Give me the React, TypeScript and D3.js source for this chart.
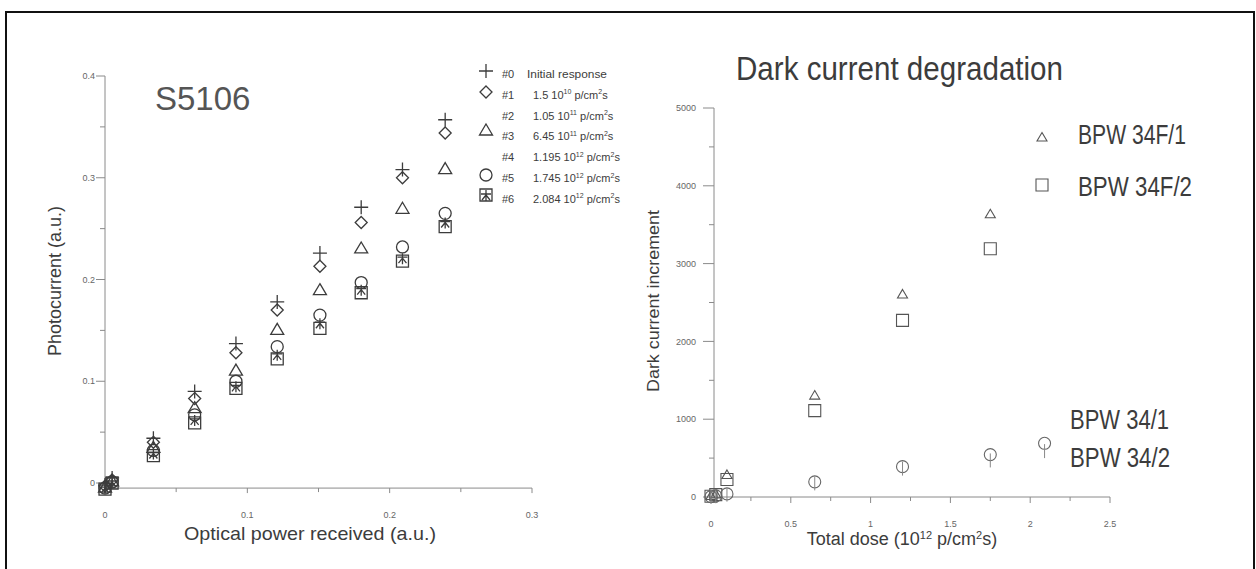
import React from 'react';
import * as d3 from 'd3';

// ---- left panel: S5106 photocurrent vs optical power ----
const powerLevels = [0, 0.005, 0.034, 0.063, 0.092, 0.121, 0.151, 0.18, 0.209, 0.239];
const run0 = [-0.002, 0.005, 0.044, 0.09, 0.137, 0.178, 0.226, 0.271, 0.308, 0.357];
const run1 = [-0.003, 0.003, 0.04, 0.083, 0.128, 0.17, 0.213, 0.256, 0.3, 0.344];
const run3 = [-0.004, 0.002, 0.035, 0.074, 0.111, 0.151, 0.19, 0.231, 0.27, 0.309];
const run5 = [-0.005, 0.001, 0.032, 0.067, 0.1, 0.134, 0.165, 0.197, 0.232, 0.265];
const run4 = [-0.005, 0.001, 0.029, 0.062, 0.095, 0.126, 0.157, 0.19, 0.221, 0.256];
const run6 = [-0.006, 0.0, 0.027, 0.059, 0.093, 0.122, 0.152, 0.187, 0.218, 0.252];

const leftXTicks = [0, 0.1, 0.2, 0.3];
const leftXMinor = [0.05, 0.15, 0.25];
const leftYTicks = [0, 0.1, 0.2, 0.3, 0.4];
const leftYMinor = [0.05, 0.15, 0.25, 0.35];

const legendRows = [
  { id: '#0', text: 'Initial response', mant: '', exp: '' },
  { id: '#1', text: '', mant: '1.5', exp: '10' },
  { id: '#2', text: '', mant: '1.05', exp: '11' },
  { id: '#3', text: '', mant: '6.45', exp: '11' },
  { id: '#4', text: '', mant: '1.195', exp: '12' },
  { id: '#5', text: '', mant: '1.745', exp: '12' },
  { id: '#6', text: '', mant: '2.084', exp: '12' },
];

// ---- right panel: dark current degradation ----
const doseF = [0, 0.03, 0.1, 0.65, 1.2, 1.75];
const bpw34F1 = [20, 40, 290, 1310, 2610, 3640];
const bpw34F2 = [10, 30, 225, 1110, 2270, 3190];
const doseN = [0, 0.03, 0.1, 0.65, 1.2, 1.75, 2.09];
const bpw341 = [5, 15, 40, 195, 390, 545, 690];
const bpw342 = [0, 10, 30, 175, 365, 470, 590];

const rightXTicks = [0, 0.5, 1, 1.5, 2, 2.5];
const rightXMinor = [0.25, 0.75, 1.25, 1.75, 2.25];
const rightYTicks = [0, 1000, 2000, 3000, 4000, 5000];
const rightYMinor = [500, 1500, 2500, 3500, 4500];

const NARROW = "'Liberation Sans Narrow', 'Liberation Sans', Arial, sans-serif";
const SANS = "'Liberation Sans', Arial, sans-serif";
const INK = '#3c3c3c';
const AXIS = '#8a8a8a';

const shapes = {
  plus: 'M-7,0H7M0,-7V7',
  diamond: 'M0,-6L6,0L0,6L-6,0Z',
  triangle: 'M0,-6L6.5,5L-6.5,5Z',
  square: 'M-6,-6H6V6H-6Z',
  star: 'M0,-5V6M-5,-1H5M0,0L-4,5M0,0L4,5',
  smallTri: 'M0,-4.5L5,4L-5,4Z',
  tick: 'M0,-7V7',
};

function Marker({ x, y, shape, stroke = INK, width = 1.3 }) {
  if (shape === 'circle') {
    return <circle cx={x} cy={y} r={6} fill="none" stroke={stroke} strokeWidth={width} />;
  }
  return <path transform={`translate(${x},${y})`} d={shapes[shape]} fill="none" stroke={stroke} strokeWidth={width} />;
}

function LeftPanel() {
  const x = d3.scaleLinear().domain([0, 0.3]).range([105, 532]);
  const y = d3.scaleLinear().domain([0, 0.4]).range([483, 76]);
  const axisY = y(-0.005);

  const series = [
    { vals: run6, shape: 'square' },
    { vals: run4, shape: 'star' },
    { vals: run5, shape: 'circle' },
    { vals: run3, shape: 'triangle' },
    { vals: run1, shape: 'diamond' },
    { vals: run0, shape: 'plus' },
  ];

  return (
    <g>
      {/* axes */}
      <line x1={x(0)} x2={x(0)} y1={y(0.4)} y2={axisY} stroke={AXIS} />
      <line x1={x(0)} x2={x(0.3)} y1={axisY} y2={axisY} stroke={AXIS} />
      {leftYTicks.map(t => (
        <g key={t}>
          <line x1={x(0) - 9} x2={x(0)} y1={y(t)} y2={y(t)} stroke={AXIS} />
          <text x={x(0) - 10} y={y(t)} dy="0.35em" textAnchor="end" fontSize={9} fill="#666" fontFamily={SANS}>{t}</text>
        </g>
      ))}
      {leftYMinor.map(t => (
        <line key={t} x1={x(0) - 5} x2={x(0)} y1={y(t)} y2={y(t)} stroke={AXIS} />
      ))}
      {leftXTicks.map(t => (
        <g key={t}>
          <line x1={x(t)} x2={x(t)} y1={axisY} y2={axisY + 5} stroke={AXIS} />
          <text x={x(t)} y={518} textAnchor="middle" fontSize={9} fill="#666" fontFamily={SANS}>{t}</text>
        </g>
      ))}
      {leftXMinor.map(t => (
        <line key={t} x1={x(t)} x2={x(t)} y1={axisY} y2={axisY + 4} stroke={AXIS} />
      ))}

      {/* labels */}
      <text x={155} y={110} fontSize={33} fill="#555" fontFamily={SANS}>S5106</text>
      <text transform="translate(61,281) rotate(-90)" textAnchor="middle" fontSize={18} fill={INK} fontFamily={SANS}>Photocurrent (a.u.)</text>
      <text x={310} y={540} textAnchor="middle" fontSize={19} fill={INK} fontFamily={SANS} textLength={252} lengthAdjust="spacingAndGlyphs">Optical power received (a.u.)</text>

      {/* data */}
      {series.map((s, si) => (
        <g key={si}>
          {s.vals.map((v, i) => (
            <Marker key={i} x={x(powerLevels[i])} y={y(v)} shape={s.shape} />
          ))}
        </g>
      ))}

      {/* legend */}
      <Marker x={486} y={71} shape="plus" />
      <Marker x={486} y={92} shape="diamond" />
      <Marker x={486} y={130} shape="triangle" />
      <Marker x={486} y={175} shape="circle" />
      <Marker x={486} y={195} shape="square" />
      <Marker x={486} y={195} shape="star" />
      {legendRows.map((r, i) => {
        const ry = 78 + i * 20.8;
        return (
          <g key={r.id} fontFamily={NARROW} fontSize={11} fill={INK}>
            <text x={502} y={ry}>{r.id}</text>
            {r.text ? (
              <text x={527} y={ry} textLength={80} lengthAdjust="spacingAndGlyphs">{r.text}</text>
            ) : (
              <text x={533} y={ry}>
                {r.mant} 10
                <tspan fontSize={7} dy={-4.5}>{r.exp}</tspan>
                <tspan dy={4.5}> p/cm</tspan>
                <tspan fontSize={7} dy={-4.5}>2</tspan>
                <tspan dy={4.5}>s</tspan>
              </text>
            )}
          </g>
        );
      })}
    </g>
  );
}

function RightPanel() {
  const x = d3.scaleLinear().domain([0, 2.5]).range([711, 1110]);
  const y = d3.scaleLinear().domain([0, 5000]).range([497, 108]);
  const axisX = 714;

  return (
    <g>
      <line x1={axisX} x2={axisX} y1={y(5000)} y2={y(0)} stroke={AXIS} />
      <line x1={x(0)} x2={x(2.5)} y1={y(0)} y2={y(0)} stroke={AXIS} />
      {rightYTicks.map(t => (
        <g key={t}>
          <line x1={axisX - 11} x2={axisX} y1={y(t)} y2={y(t)} stroke={AXIS} />
          <text x={axisX - 18} y={y(t)} dy="0.35em" textAnchor="end" fontSize={9} fill="#666" fontFamily={SANS}>{t}</text>
        </g>
      ))}
      {rightYMinor.map(t => (
        <line key={t} x1={axisX - 5} x2={axisX} y1={y(t)} y2={y(t)} stroke={AXIS} />
      ))}
      {rightXTicks.map(t => (
        <g key={t}>
          <line x1={x(t)} x2={x(t)} y1={y(0)} y2={y(0) + 6} stroke={AXIS} />
          <text x={x(t)} y={527} textAnchor="middle" fontSize={9} fill="#666" fontFamily={SANS}>{t}</text>
        </g>
      ))}
      {rightXMinor.map(t => (
        <line key={t} x1={x(t)} x2={x(t)} y1={y(0)} y2={y(0) + 4} stroke={AXIS} />
      ))}

      <text x={736} y={80} fontSize={33} fill={INK} fontFamily={NARROW} textLength={327} lengthAdjust="spacingAndGlyphs">Dark current degradation</text>
      <text transform="translate(659,301) rotate(-90)" textAnchor="middle" fontSize={16} fill={INK} fontFamily={SANS} textLength={182} lengthAdjust="spacingAndGlyphs">Dark current increment</text>
      <text x={902} y={545} textAnchor="middle" fontSize={18} fill={INK} fontFamily={SANS}>
        Total dose (10<tspan fontSize={11} dy={-6}>12</tspan><tspan dy={6}> p/cm</tspan><tspan fontSize={11} dy={-6}>2</tspan><tspan dy={6}>s)</tspan>
      </text>

      {bpw34F1.map((v, i) => <Marker key={'a' + i} x={x(doseF[i])} y={y(v)} shape="smallTri" stroke="#555" width={1.1} />)}
      {bpw34F2.map((v, i) => <Marker key={'b' + i} x={x(doseF[i])} y={y(v)} shape="square" stroke="#555" width={1.1} />)}
      {bpw341.map((v, i) => <Marker key={'c' + i} x={x(doseN[i])} y={y(v)} shape="circle" stroke="#666" width={1.1} />)}
      {bpw342.map((v, i) => <Marker key={'d' + i} x={x(doseN[i])} y={y(v)} shape="tick" stroke="#888" width={1} />)}

      {/* legend */}
      <Marker x={1042} y={137} shape="smallTri" stroke="#555" width={1.1} />
      <Marker x={1042} y={185} shape="square" stroke="#555" width={1.1} />
      <g fontFamily={NARROW} fontSize={28} fill={INK}>
        <text x={1078} y={144} textLength={108} lengthAdjust="spacingAndGlyphs">BPW 34F/1</text>
        <text x={1078} y={196} textLength={114} lengthAdjust="spacingAndGlyphs">BPW 34F/2</text>
        <text x={1070} y={429} textLength={99} lengthAdjust="spacingAndGlyphs">BPW 34/1</text>
        <text x={1070} y={467} textLength={100} lengthAdjust="spacingAndGlyphs">BPW 34/2</text>
      </g>
    </g>
  );
}

export default function App() {
  return (
    <div style={{ position: 'absolute', left: 0, top: 0 }}>
      <svg width={1256} height={569} style={{ display: 'block', background: '#fff' }}>
        <path d="M6,575V12H1254V575" fill="none" stroke="#111" strokeWidth={2} />
        <LeftPanel />
        <RightPanel />
      </svg>
    </div>
  );
}
